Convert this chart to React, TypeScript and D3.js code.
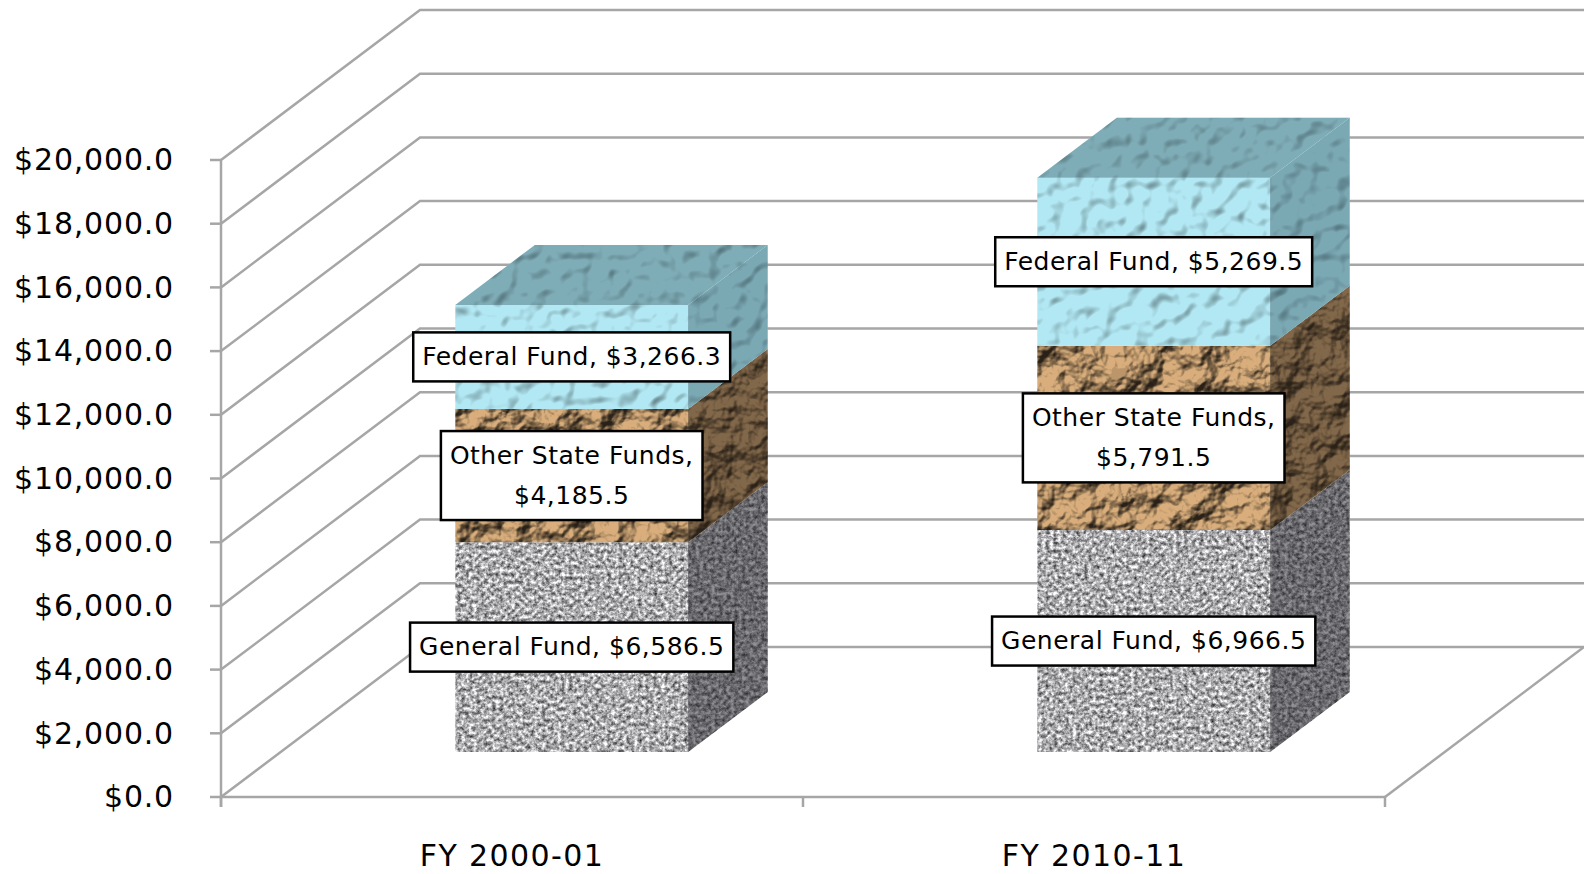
// App.tsx - stacked 3D column chart of funding by source
import * as d3 from 'd3';
import { useRef, useEffect } from 'react';

const categories = ["FY 2000-01", "FY 2010-11"];
const seriesNames = ["General Fund", "Other State Funds", "Federal Fund"];
const generalFund = [6586.5, 6966.5];
const otherStateFunds = [4185.5, 5791.5];
const federalFund = [3266.3, 5269.5];
const tickValues = [0, 2000, 4000, 6000, 8000, 10000, 12000, 14000, 16000, 18000, 20000];

const GRID = "#a6a6a6";
const FONT = "'DejaVu Sans', sans-serif";

function lightingFilter(defs, id, opts) {
  const f = defs.append("filter").attr("id", id)
    .attr("x", -0.1).attr("y", -0.1).attr("width", 1.2).attr("height", 1.2)
    .attr("color-interpolation-filters", "sRGB");
  f.append("feTurbulence").attr("type", "fractalNoise")
    .attr("baseFrequency", opts.freq).attr("numOctaves", opts.octaves)
    .attr("seed", opts.seed).attr("result", "noise");
  f.append("feColorMatrix").attr("in", "noise").attr("type", "matrix")
    .attr("values", `0 0 0 0 0  0 0 0 0 0  0 0 0 0 0  ${opts.slope} 0 0 0 ${opts.intercept}`)
    .attr("result", "bump");
  f.append("feGaussianBlur").attr("in", "bump").attr("stdDeviation", opts.blur).attr("result", "soft");
  const light = f.append("feDiffuseLighting").attr("in", "soft")
    .attr("surfaceScale", opts.surface).attr("diffuseConstant", opts.diffuse)
    .attr("lighting-color", "#fff").attr("result", "lit");
  light.append("feDistantLight").attr("azimuth", 235).attr("elevation", opts.elevation);
  // lift the shadows towards the base colour, the raw lighting goes far too dark
  f.append("feFlood").attr("flood-color", opts.color).attr("result", "base");
  f.append("feComposite").attr("in", "lit").attr("in2", "base").attr("operator", "arithmetic")
    .attr("k1", opts.k1).attr("k2", 0).attr("k3", opts.k3).attr("k4", 0).attr("result", "mixed");
  f.append("feGaussianBlur").attr("in", "mixed").attr("stdDeviation", 0.6).attr("result", "smooth");
  f.append("feComposite").attr("in", "smooth").attr("in2", "SourceAlpha").attr("operator", "in");
}

function grainFilter(defs, id) {
  const f = defs.append("filter").attr("id", id)
    .attr("x", -0.1).attr("y", -0.1).attr("width", 1.2).attr("height", 1.2)
    .attr("color-interpolation-filters", "sRGB");
  f.append("feTurbulence").attr("type", "fractalNoise")
    .attr("baseFrequency", 0.26).attr("numOctaves", 3).attr("seed", 11).attr("result", "noise");
  f.append("feColorMatrix").attr("in", "noise").attr("type", "matrix")
    .attr("values", "1.25 0 0 0 0.05  1.25 0 0 0 0.05  1.25 0 0 0 0.06  0 0 0 0 1")
    .attr("result", "speck");
  f.append("feGaussianBlur").attr("in", "speck").attr("stdDeviation", 0.7).attr("result", "soft");
  f.append("feComposite").attr("in", "soft").attr("in2", "SourceAlpha").attr("operator", "in");
}

export default function App() {
  const ref = useRef(null);

  useEffect(() => {
    const width = 1584;
    const height = 874;

    const svg = d3.select(ref.current);
    svg.selectAll("*").remove();

    // --- scales ---
    const y = d3.scaleLinear().domain([0, 20000]).range([797, 160]);
    const x = d3.scaleBand().domain(categories).range([221, 1385]).paddingInner(0.6).paddingOuter(0.3);
    const axisX = d3.scaleBand().domain(categories).range([221, 1385]);
    const depthX = d3.scaleLinear().domain([0, 1]).range([0, 199]);
    const depthY = d3.scaleLinear().domain([0, 1]).range([0, 150]);

    const pt = (px, py, d) => [px + depthX(d), py - depthY(d)];
    const poly = pts => pts.map(p => p.join(",")).join(" ");

    // --- textures ---
    const defs = svg.append("defs");
    grainFilter(defs, "granite");
    lightingFilter(defs, "paper", {
      freq: 0.028, octaves: 4, seed: 4, slope: 1.6, intercept: -0.3, blur: 0.7,
      surface: 11, diffuse: 1.08, elevation: 50, color: "#cfa676", k1: 0.85, k3: 0.2
    });
    lightingFilter(defs, "water", {
      freq: 0.07, octaves: 2, seed: 8, slope: 2.2, intercept: -0.6, blur: 2,
      surface: 2.8, diffuse: 1.22, elevation: 60, color: "#aee3ee", k1: 0.82, k3: 0.2
    });

    // --- walls and floor ---
    const grid = svg.append("g").attr("stroke", GRID).attr("stroke-width", 2.5).attr("fill", "none");
    tickValues.forEach(t => {
      grid.append("polyline")
        .attr("points", poly([[221, y(t)], pt(221, y(t), 1), pt(1385, y(t), 1)]));
      grid.append("line")
        .attr("x1", 210).attr("x2", 221).attr("y1", y(t)).attr("y2", y(t));
    });
    grid.append("line").attr("x1", 221).attr("x2", 221).attr("y1", y(20000)).attr("y2", 807);
    grid.append("line").attr("x1", 221).attr("x2", 1385).attr("y1", y(0)).attr("y2", y(0));
    grid.append("polyline").attr("points", poly([[1385, y(0)], pt(1385, y(0), 1)]));
    [...categories.map(c => axisX(c)), 1385].forEach(tx => {
      grid.append("line").attr("x1", tx).attr("x2", tx).attr("y1", y(0)).attr("y2", 807);
    });

    // --- stacked columns ---
    const rows = categories.map((c, i) => ({
      category: c,
      "General Fund": generalFund[i],
      "Other State Funds": otherStateFunds[i],
      "Federal Fund": federalFund[i]
    }));
    const stacked = d3.stack().keys(seriesNames)(rows);
    const texture = ["granite", "paper", "water"];
    const sideShade = [0.5, 0.5, 0.42];
    const sideTint = ["#26262c", "#2c2218", "#2e4f5a"];

    const front = 0.3;
    const back = 0.7;
    const bars = svg.append("g");

    stacked.forEach((layer, s) => {
      layer.forEach(d => {
        const cat = d.data.category;
        const x0 = x(cat);
        const x1 = x0 + x.bandwidth();
        const yLo = y(d[0]);
        const yHi = y(d[1]);
        const frontFace = [pt(x0, yLo, front), pt(x1, yLo, front), pt(x1, yHi, front), pt(x0, yHi, front)];
        const sideFace = [pt(x1, yLo, front), pt(x1, yLo, back), pt(x1, yHi, back), pt(x1, yHi, front)];
        const topFace = [pt(x0, yHi, front), pt(x1, yHi, front), pt(x1, yHi, back), pt(x0, yHi, back)];

        bars.append("polygon").attr("points", poly(frontFace)).attr("fill", "#000")
          .attr("filter", `url(#${texture[s]})`);
        bars.append("polygon").attr("points", poly(sideFace)).attr("fill", "#000")
          .attr("filter", `url(#${texture[s]})`);
        bars.append("polygon").attr("points", poly(sideFace))
          .attr("fill", sideTint[s]).attr("fill-opacity", sideShade[s]);
        if (s === stacked.length - 1) {
          bars.append("polygon").attr("points", poly(topFace)).attr("fill", "#000")
            .attr("filter", `url(#${texture[s]})`);
          bars.append("polygon").attr("points", poly(topFace))
            .attr("fill", "#3a5a64").attr("fill-opacity", 0.42);
        }
      });
    });

    // --- data labels ---
    const money = d3.format("$,.1f");
    const labels = svg.append("g").attr("font-family", FONT).attr("font-size", 25)
      .attr("letter-spacing", 0.5).attr("fill", "#000");
    stacked.forEach(layer => {
      layer.forEach(d => {
        const name = layer.key;
        const value = d[1] - d[0];
        const lines = name === "Other State Funds"
          ? [`${name},`, money(value)]
          : [`${name}, ${money(value)}`];
        const [cx, cy] = pt(x(d.data.category) + x.bandwidth() / 2, y((d[0] + d[1]) / 2), front);
        const lineHeight = 40;
        const boxH = lines.length * lineHeight + 9;
        const g = labels.append("g");
        const box = g.append("rect").attr("fill", "#fff").attr("stroke", "#000").attr("stroke-width", 2.5);
        let w = 0;
        lines.forEach((line, i) => {
          const t = g.append("text")
            .attr("x", cx)
            .attr("y", cy + (i - (lines.length - 1) / 2) * lineHeight)
            .attr("dy", "0.32em")
            .attr("text-anchor", "middle")
            .text(line);
          w = Math.max(w, t.node().getComputedTextLength());
        });
        const boxW = w + 18;
        box.attr("x", cx - boxW / 2).attr("y", cy - boxH / 2).attr("width", boxW).attr("height", boxH);
      });
    });

    // --- axis labels ---
    const axisText = svg.append("g").attr("font-family", FONT).attr("fill", "#000");
    axisText.selectAll("text.y")
      .data(tickValues)
      .join("text")
      .attr("class", "y")
      .attr("x", 174)
      .attr("y", d => y(d))
      .attr("dy", "0.34em")
      .attr("text-anchor", "end")
      .attr("font-size", 30)
      .attr("letter-spacing", 0.8)
      .text(d => money(d));
    axisText.selectAll("text.x")
      .data(categories)
      .join("text")
      .attr("class", "x")
      .attr("x", d => axisX(d) + axisX.bandwidth() / 2)
      .attr("y", 866)
      .attr("text-anchor", "middle")
      .attr("font-size", 30)
      .attr("letter-spacing", 1.4)
      .text(d => d);

    svg.attr("width", width).attr("height", height);
  }, []);

  return <svg ref={ref} style={{ position: "fixed", left: 0, top: 0, display: "block", background: "#fff" }}></svg>;
}
